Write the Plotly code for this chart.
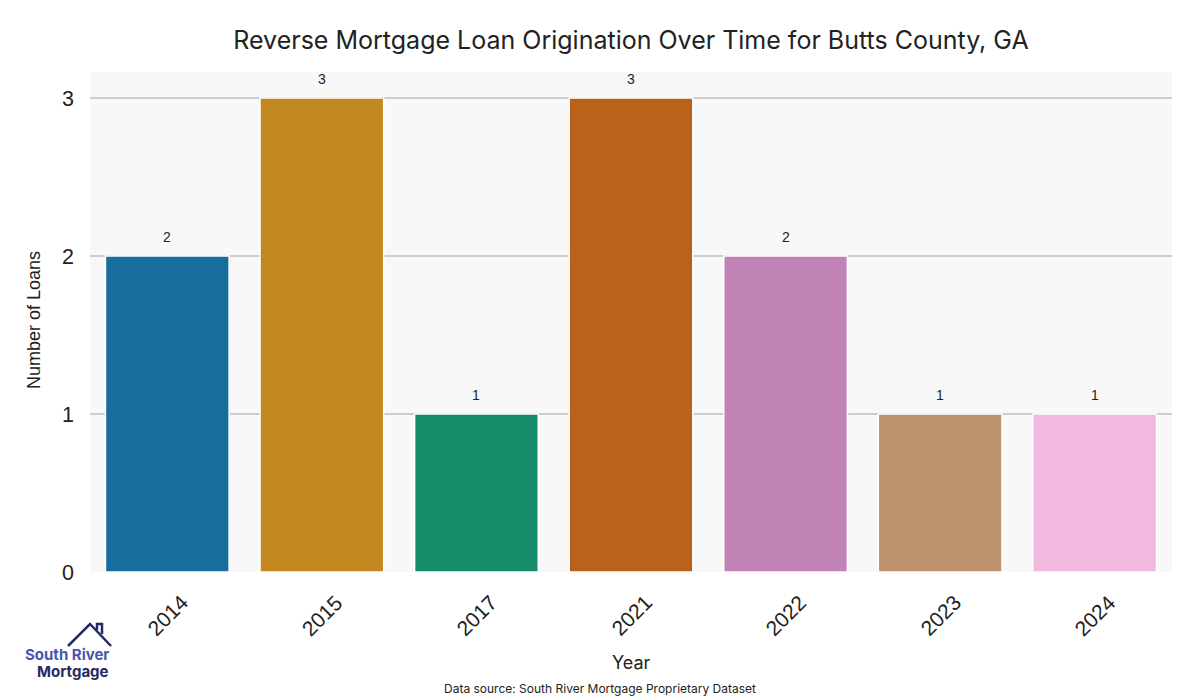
import plotly.graph_objects as go

years = ["2014", "2015", "2017", "2021", "2022", "2023", "2024"]
loans = [2, 3, 1, 3, 2, 1, 1]
bar_colors = ["#176d9c", "#c38820", "#168b6a", "#ba611b", "#c183b5", "#bd926e", "#f1b8e0"]
y_ticks = [0, 1, 2, 3]

OFF = 8  # page body margin
W, H = 1200, 700
PW, PH = 1082, 500
L, T = 90 - OFF, 72 - OFF
R = W - L - PW
B = H - T - PH

def px(x):
    return (x - OFF - L) / PW

def py(y):
    return (T + PH - (y - OFF)) / PH

fig = go.Figure()
fig.add_trace(go.Bar(
    x=list(range(len(years))), y=loans,
    marker=dict(color=bar_colors, line=dict(color="white", width=1.5)),
    width=0.8, hovertext=years, hoverinfo="text+y",
))

# value labels above bars
annotations = [
    dict(x=i, y=v, xref="x", yref="y", text=str(v), showarrow=False,
         yanchor="bottom", yshift=9,
         font=dict(family="Liberation Sans, Arial", size=14, color="#222222"))
    for i, v in enumerate(loans)
]
# rotated category labels, centred on each tick
annotations += [
    dict(x=i, y=py(615), xref="x", yref="paper", text=yr, showarrow=False,
         textangle=-45, xanchor="center", yanchor="middle",
         font=dict(family="Liberation Sans, Arial", size=21, color="#222222"))
    for i, yr in enumerate(years)
]

annotations += [
    dict(text="Number of Loans", x=px(34), y=py(320), xref="paper", yref="paper",
         textangle=-90, showarrow=False, xanchor="center", yanchor="middle",
         font=dict(family="Liberation Sans, Arial", size=18, color="#222222")),
    dict(text="Year", x=px(631), y=py(662), xref="paper", yref="paper",
         showarrow=False, xanchor="center", yanchor="middle",
         font=dict(family="Inter, sans-serif", size=18, color="#222222")),
    dict(text="Data source: South River Mortgage Proprietary Dataset", x=px(600), y=py(688),
         xref="paper", yref="paper", showarrow=False, xanchor="center", yanchor="middle",
         font=dict(family="Inter, sans-serif", size=12, color="#222222")),
    dict(text="<b>South River</b>", x=px(111), y=py(654), xref="paper", yref="paper",
         showarrow=False, xanchor="right", yanchor="middle",
         font=dict(family="Inter, sans-serif", size=15, color="#4657ad")),
    dict(text="<b>Mortgage</b>", x=px(111), y=py(671), xref="paper", yref="paper",
         showarrow=False, xanchor="right", yanchor="middle",
         font=dict(family="Inter, sans-serif", size=15, color="#252a62")),
]

fig.update_layout(
    width=W, height=H,
    margin=dict(l=L, r=R, t=T, b=B),
    paper_bgcolor="white", plot_bgcolor="#f8f8f8",
    showlegend=False,
    title=dict(text="Reverse Mortgage Loan Origination Over Time for Butts County, GA",
               x=px(631), xref="paper", xanchor="center", y=1 - (40 - OFF) / H, yanchor="middle",
               font=dict(family="Inter, sans-serif", size=25, color="#222222")),
    xaxis=dict(range=[-0.5, len(years) - 0.5], showticklabels=False, showgrid=False,
               ticks="", showline=False, zeroline=False),
    yaxis=dict(range=[0, 3.165], tickvals=y_ticks, ticktext=[str(v) for v in y_ticks],
               showgrid=True, gridcolor="#cccccc", gridwidth=2, zeroline=False,
               tickfont=dict(family="Liberation Sans, Arial", size=21.5, color="#222222"),
               ticks="", ticklabelstandoff=15),
    annotations=annotations,
    shapes=[
        dict(type="path", xref="paper", yref="paper",
             path=f"M {px(68)} {py(646)} L {px(90)} {py(624)} L {px(111)} {py(646)}",
             line=dict(color="#252a62", width=2.5)),
        dict(type="path", xref="paper", yref="paper",
             path=f"M {px(97)} {py(630)} L {px(97)} {py(624)} L {px(102)} {py(624)} L {px(102)} {py(634)}",
             line=dict(color="#252a62", width=2.5)),
    ],
)

fig.write_html("out.html")
